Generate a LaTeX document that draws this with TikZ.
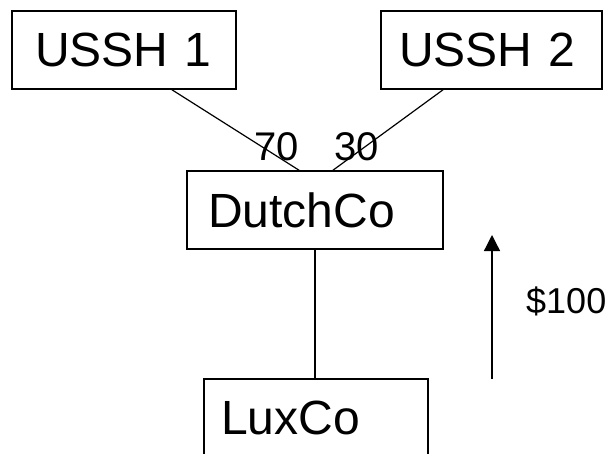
\documentclass[tikz,border=0pt]{standalone}
\usepackage{fontspec}
\setmainfont{Liberation Sans}
\usetikzlibrary{arrows.meta,calc}

\begin{document}
\begin{tikzpicture}[%
      x=1pt, y=-1pt,
      company/.style={draw, line width=1.6pt, align=left, inner ysep=0pt,
        minimum height=78pt, font=\fontsize{48}{50}\selectfont},
      link/.style={line width=1.2pt},
      share/.style={anchor=base west, inner sep=0pt,
        font=\fontsize{40}{42}\selectfont},
      ]
      \useasboundingbox (0,0) rectangle (612,453);
      \clip (0,0) rectangle (612,453);

      % shareholders, holding company and the lux entity
      \node[company, text width=178pt, inner xsep=23pt] (ussh1) at (124,50) {USSH 1};
      \node[company, text width=185pt, inner xsep=18pt] (ussh2) at (491.5,50) {USSH 2};
      \node[company, text width=214pt, inner xsep=21pt] (dutch) at (315,210) {DutchCo};
      \node[company, text width=190pt, inner xsep=17pt] (lux) at (316,418) {LuxCo};

      % ownership lines
      \draw[link] ($(ussh1.south)+(48,0)$) -- ($(dutch.north)+(-16,0)$);
      \draw[link] ($(ussh2.south)+(-48.5,0)$) -- ($(dutch.north)+(18,0)$);
      \draw[link] (dutch.south) -- (dutch.south |- lux.north);

      \node[share] (own1) at (254,160) {70};
      \node[share] (own2) at (334,160) {30};

      % payment going up
      \coordinate (flowbot) at (492,379);
      \coordinate (flowtop) at (492,235);
      \draw[line width=1.3pt, -{Triangle[width=16pt,length=16pt]}] (flowbot) -- (flowtop);
      \node[share, font=\fontsize{36}{38}\selectfont] (amount) at (526,313) {\$100};
\end{tikzpicture}
\end{document}
